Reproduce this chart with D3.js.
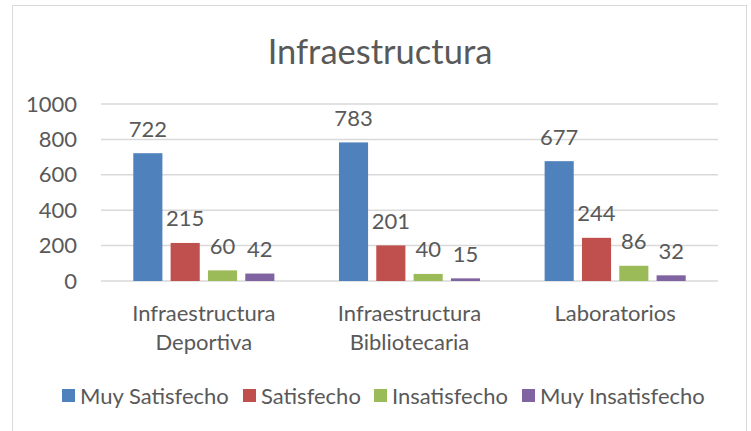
<!DOCTYPE html>
<html>
<head>
<meta charset="utf-8">
<script src="https://cdn.jsdelivr.net/npm/d3@7"></script>
<style>
  body { margin: 0; background: #fff; }
  svg text { font-family: Lato, "Open Sans", sans-serif; fill: #595959; }
</style>
</head>
<body>
<svg id="chart" width="751" height="431"></svg>
<script>
const categories = [['Infraestructura', 'Deportiva'], ['Infraestructura', 'Bibliotecaria'], ['Laboratorios']]
const series = ['Muy Satisfecho', 'Satisfecho', 'Insatisfecho', 'Muy Insatisfecho']
const muy_satisfecho = [722, 783, 677]
const satisfecho = [215, 201, 244]
const insatisfecho = [60, 40, 86]
const muy_insatisfecho = [42, 15, 32]
const y_ticks = [0, 200, 400, 600, 800, 1000]
const colors = ['#4f81bd', '#c0504d', '#9bbb59', '#8064a2']

const values = [muy_satisfecho, satisfecho, insatisfecho, muy_insatisfecho]

const svg = d3.select('#chart')
const margin = { left: 101, right: 33, top: 104, bottom: 150 }
const width = 751 - margin.left - margin.right
const plot_h = 431 - margin.top - margin.bottom

// chart border
svg.append('rect')
  .attr('x', 12.5).attr('y', 5.5)
  .attr('width', 734).attr('height', 430)
  .style('fill', 'none')
  .style('stroke', '#d9d9d9')
  .style('stroke-width', 1)

// title
svg.append('text')
  .attr('x', 380).attr('y', 50)
  .attr('text-anchor', 'middle')
  .attr('dominant-baseline', 'central')
  .style('font-size', '34.5px')
  .text('Infraestructura')

const g = svg.append('g').attr('transform', `translate(${margin.left},${margin.top})`)

const x0 = d3.scaleBand().domain(d3.range(categories.length)).range([0, width]).paddingInner(0).paddingOuter(0)
const x1 = d3.scaleBand().domain(d3.range(series.length))
  .range([x0.bandwidth() * 0.157, x0.bandwidth() * 0.843]).paddingInner(0.22).paddingOuter(0)
const y = d3.scaleLinear().domain([0, 1000]).range([plot_h, 0])

// gridlines
g.selectAll('.grid').data(y_ticks).join('line')
  .attr('x1', 0).attr('x2', width)
  .attr('y1', d => y(d)).attr('y2', d => y(d))
  .style('stroke', '#d9d9d9').style('stroke-width', 1.5)

// y axis labels
const y_axis = g.append('g')
  .call(d3.axisLeft(y).tickValues(y_ticks).tickFormat(d => d).tickSize(0).tickPadding(24))
y_axis.select('.domain').remove()
y_axis.selectAll('text').style('font-size', '22px').style('fill', '#595959').style('font-family', 'Lato, sans-serif')

// bars
categories.forEach((cat, ci) => {
  const grp = g.append('g').attr('transform', `translate(${x0(ci)},0)`)
  series.forEach((s, si) => {
    const v = values[si][ci]
    grp.append('rect')
      .attr('x', x1(si)).attr('y', y(v))
      .attr('width', x1.bandwidth()).attr('height', plot_h - y(v))
      .style('fill', colors[si])
    grp.append('text')
      .attr('x', x1(si) + x1.bandwidth() / 2)
      .attr('y', y(v) - 25)
      .attr('text-anchor', 'middle')
      .attr('dominant-baseline', 'central')
      .style('font-size', '22px')
      .text(v)
  })
  // category label
  cat.forEach((line, li) => {
    g.append('text')
      .attr('x', x0(ci) + x0.bandwidth() / 2)
      .attr('y', plot_h + 31 + li * 29)
      .attr('text-anchor', 'middle')
      .attr('dominant-baseline', 'central')
      .style('font-size', '22px')
      .text(line)
  })
})

// legend
const legend_x = [62, 243, 374, 522]
const legend = svg.append('g')
series.forEach((s, si) => {
  legend.append('rect')
    .attr('x', legend_x[si]).attr('y', 389)
    .attr('width', 13).attr('height', 13)
    .style('fill', colors[si])
  legend.append('text')
    .attr('x', legend_x[si] + 18).attr('y', 395)
    .attr('dominant-baseline', 'central')
    .style('font-size', '22px')
    .text(s)
})
</script>
</body>
</html>
